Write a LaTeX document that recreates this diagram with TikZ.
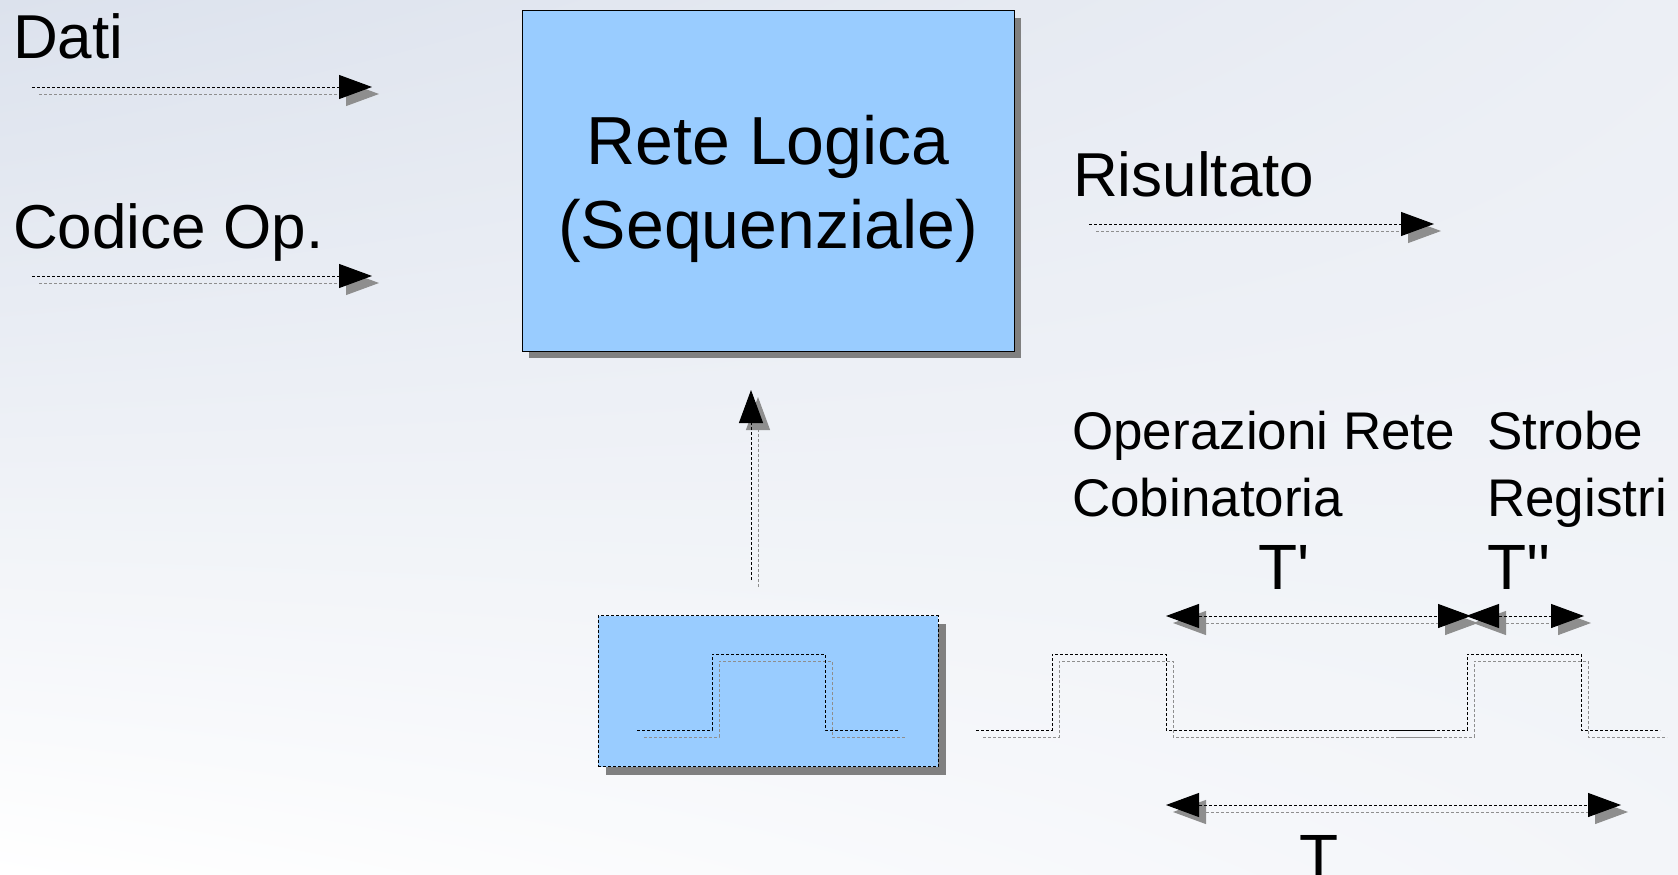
\documentclass[tikz,border=0pt]{standalone}
\usepackage{fontspec}
\setmainfont{Liberation Sans}[Ligatures=TeXOff]
\usetikzlibrary{arrows.meta,shadows,shadings}
\definecolor{boxblue}{HTML}{99CCFF}
\definecolor{shad}{HTML}{808080}
\definecolor{shline}{HTML}{8E8E8E}
\definecolor{bgUL}{HTML}{DCE2ED}
\definecolor{bgUR}{HTML}{ECEFF5}
\definecolor{bgLR}{HTML}{F3F5F9}
\tikzset{
  dl/.style={line width=1pt, dash pattern=on 3pt off 2pt, draw=black},
  sl/.style={line width=1pt, dash pattern=on 3pt off 2pt, draw=shline, transform canvas={shift={(7pt,-7pt)}}},
  rt/.style={-{Triangle[length=33pt,width=24pt]}},
  lrt/.style={{Triangle[length=33pt,width=24pt]}-{Triangle[length=33pt,width=24pt]}},
  big/.style={font=\fontsize{62}{74}\selectfont, inner sep=0pt, anchor=base west},
  mid/.style={font=\fontsize{53}{64}\selectfont, inner sep=0pt, anchor=base west},
  tl/.style={font=\fontsize{64}{76}\selectfont, inner sep=0pt},
}
\newcommand{\sarr}[3]{\draw[sl,#1] #2 -- #3; \draw[dl,#1] #2 -- #3;}
\begin{document}
\begin{tikzpicture}[x=1pt,y=-1pt]
\useasboundingbox (0,0) rectangle (1678,875);
\shade[upper left=bgUL, upper right=bgUR, lower left=white, lower right=bgLR] (0,0) rectangle (1678,875);

% texts left
\node[big] (dati) at (13,59) {Dati};
\node[big] (codice) at (13,248) {Codice Op.};
\coordinate (datiS) at (32,87);
\coordinate (datiE) at (372,87);
\coordinate (codS) at (32,276);
\coordinate (codE) at (372,276);
\sarr{rt}{(datiS)}{(datiE)}
\sarr{rt}{(codS)}{(codE)}

% main box
\node[draw=black, line width=1pt, fill=boxblue, minimum width=492pt, minimum height=340pt, inner sep=0pt,
  drop shadow={shadow xshift=7pt, shadow yshift=-7pt, fill=shad, opacity=1}] (rete) at (768,181) {};
\node[font=\fontsize{68}{80}\selectfont, inner sep=0pt, anchor=base] (rete1) at (768,164) {Rete Logica};
\node[font=\fontsize{68}{80}\selectfont, inner sep=0pt, anchor=base] (rete2) at (768,248) {(Sequenziale)};

% result
\node[big] (ris) at (1073,196) {Risultato};
\coordinate (risS) at (1089,224);
\coordinate (risE) at (1434,224);
\sarr{rt}{(risS)}{(risE)}

% clock box
\node[draw=black, dash pattern=on 3pt off 2pt, line width=1pt, fill=boxblue, minimum width=340pt, minimum height=151pt, inner sep=0pt,
  drop shadow={shadow xshift=8pt, shadow yshift=-8pt, fill=shad, opacity=1}] (clk) at (768,691) {};
\coordinate (upS) at (751,580);
\coordinate (upE) at (751,390);
\sarr{rt}{(upS)}{(upE)}
\draw[sl] (637,730) -- (712,730) -- (712,654) -- (825,654) -- (825,730) -- (899,730);
\draw[dl] (637,730) -- (712,730) -- (712,654) -- (825,654) -- (825,730) -- (899,730);

% waveform right
\draw[sl] (976,730) -- (1052,730) -- (1052,654) -- (1166,654) -- (1166,730) -- (1435,730);
\draw[dl] (976,730) -- (1052,730) -- (1052,654) -- (1166,654) -- (1166,730) -- (1435,730);
\draw[sl] (1392,730) -- (1467,730) -- (1467,654) -- (1581,654) -- (1581,730) -- (1660,730);
\draw[dl] (1392,730) -- (1467,730) -- (1467,654) -- (1581,654) -- (1581,730) -- (1660,730);

% labels right
\node[mid] (op1) at (1072,449) {Operazioni Rete};
\node[mid] (op2) at (1072,516) {Cobinatoria};
\node[mid] (st1) at (1487,449) {Strobe};
\node[mid] (st2) at (1487,516) {Registri};
\node[tl, anchor=base] (tp) at (1284,589) {T'};
\node[tl, anchor=base west] (tpp) at (1487,589) {T''};
\node[tl, anchor=base] (tt) at (1319,879) {T};

\coordinate (tpL) at (1166,616);
\coordinate (tpR) at (1471,616);
\coordinate (tppL) at (1466,616);
\coordinate (tppR) at (1584,616);
\coordinate (tL) at (1166,805);
\coordinate (tR) at (1621,805);
\sarr{lrt}{(tpL)}{(tpR)}
\sarr{lrt}{(tppL)}{(tppR)}
\sarr{lrt}{(tL)}{(tR)}
\end{tikzpicture}
\end{document}
